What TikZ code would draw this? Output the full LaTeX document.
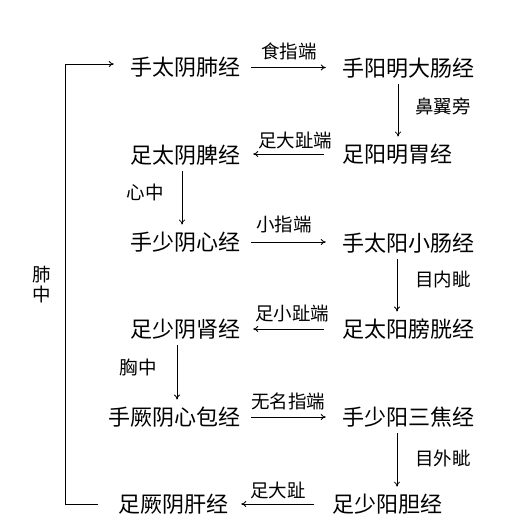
\documentclass[tikz,border=0pt]{standalone}
\usepackage{fontspec}
\setmainfont{Noto Sans CJK SC}
\usetikzlibrary{arrows.meta}
\begin{document}
\begin{tikzpicture}[x=1pt,y=-1pt,
  mer/.style={inner sep=0pt, font=\fontsize{22pt}{24pt}\selectfont},
  lab/.style={inner sep=0pt, font=\fontsize{18.5pt}{20pt}\selectfont},
  arr/.style={draw, line width=0.8pt, -{To[length=5pt,width=6pt]}},
  toright/.style={arr, shorten <=11pt, shorten >=16pt},
  toleft/.style={arr, shorten <=18pt, shorten >=13pt},
  down/.style={arr, shorten <=6pt, shorten >=7pt}]
\useasboundingbox (0,0) rectangle (507,530);
% meridians
\node[mer] (n1)  at (185,67.5) {手太阴肺经};
\node[mer] (n2)  at (408,68)   {手阳明大肠经};
\node[mer] (n3)  at (397,154)  {足阳明胃经};
\node[mer] (n4)  at (185,155)  {足太阴脾经};
\node[mer] (n5)  at (185,242)  {手少阴心经};
\node[mer] (n6)  at (408,243)  {手太阳小肠经};
\node[mer] (n7)  at (408,329)  {足太阳膀胱经};
\node[mer] (n8)  at (185,329)  {足少阴肾经};
\node[mer] (n9)  at (174,417)  {手厥阴心包经};
\node[mer] (n10) at (408,417)  {手少阳三焦经};
\node[mer] (n11) at (387,504)  {足少阳胆经};
\node[mer] (n12) at (173,504)  {足厥阴肝经};
% labels
\node[lab] (l1)  at (289,51)  {食指端};
\node[lab] (l2)  at (295,140) {足大趾端};
\node[lab] (l3)  at (443,106) {鼻翼旁};
\node[lab] (l4)  at (145,192) {心中};
\node[lab] (l5)  at (284,224) {小指端};
\node[lab] (l6)  at (443,279) {目内眦};
\node[lab] (l7)  at (292,314) {足小趾端};
\node[lab] (l8)  at (138,367) {胸中};
\node[lab] (l9)  at (288,401) {无名指端};
\node[lab] (l10) at (443,458) {目外眦};
\node[lab] (l11) at (278,490) {足大趾};
\node[lab, align=center] (l12) at (42,285) {肺\\中};
% horizontal arrows
\draw[toright] (n1.east) -- (n1.east -| n2.west);
\draw[toleft]  (n3.west) -- (n3.west -| n4.east);
\draw[toright] (n5.east) -- (n5.east -| n6.west);
\draw[toleft]  (n7.west) -- (n7.west -| n8.east);
\draw[toright] (n9.east) -- (n9.east -| n10.west);
\draw[toleft]  (n11.west) -- (n11.west -| n12.east);
% vertical arrows
\draw[down] ([xshift=-10pt]n2.south) -- ([xshift=-10pt]n2.south |- n3.north);
\draw[down] ([xshift=-3pt]n4.south) -- ([xshift=-3pt]n4.south |- n5.north);
\draw[down] ([xshift=-11pt]n6.south) -- ([xshift=-11pt]n6.south |- n7.north);
\draw[down] ([xshift=-8pt]n8.south) -- ([xshift=-8pt]n8.south |- n9.north);
\draw[down] ([xshift=-11pt]n10.south) -- ([xshift=-11pt]n10.south |- n11.north);
% loop back
\coordinate (L) at (65,285);
\draw[arr, shorten <=20pt, shorten >=16pt] (n12.west) -- (n12.west -| L) -- ([yshift=3.5pt]n1.west -| L) -- ([yshift=3.5pt]n1.west);
\end{tikzpicture}
\end{document}
